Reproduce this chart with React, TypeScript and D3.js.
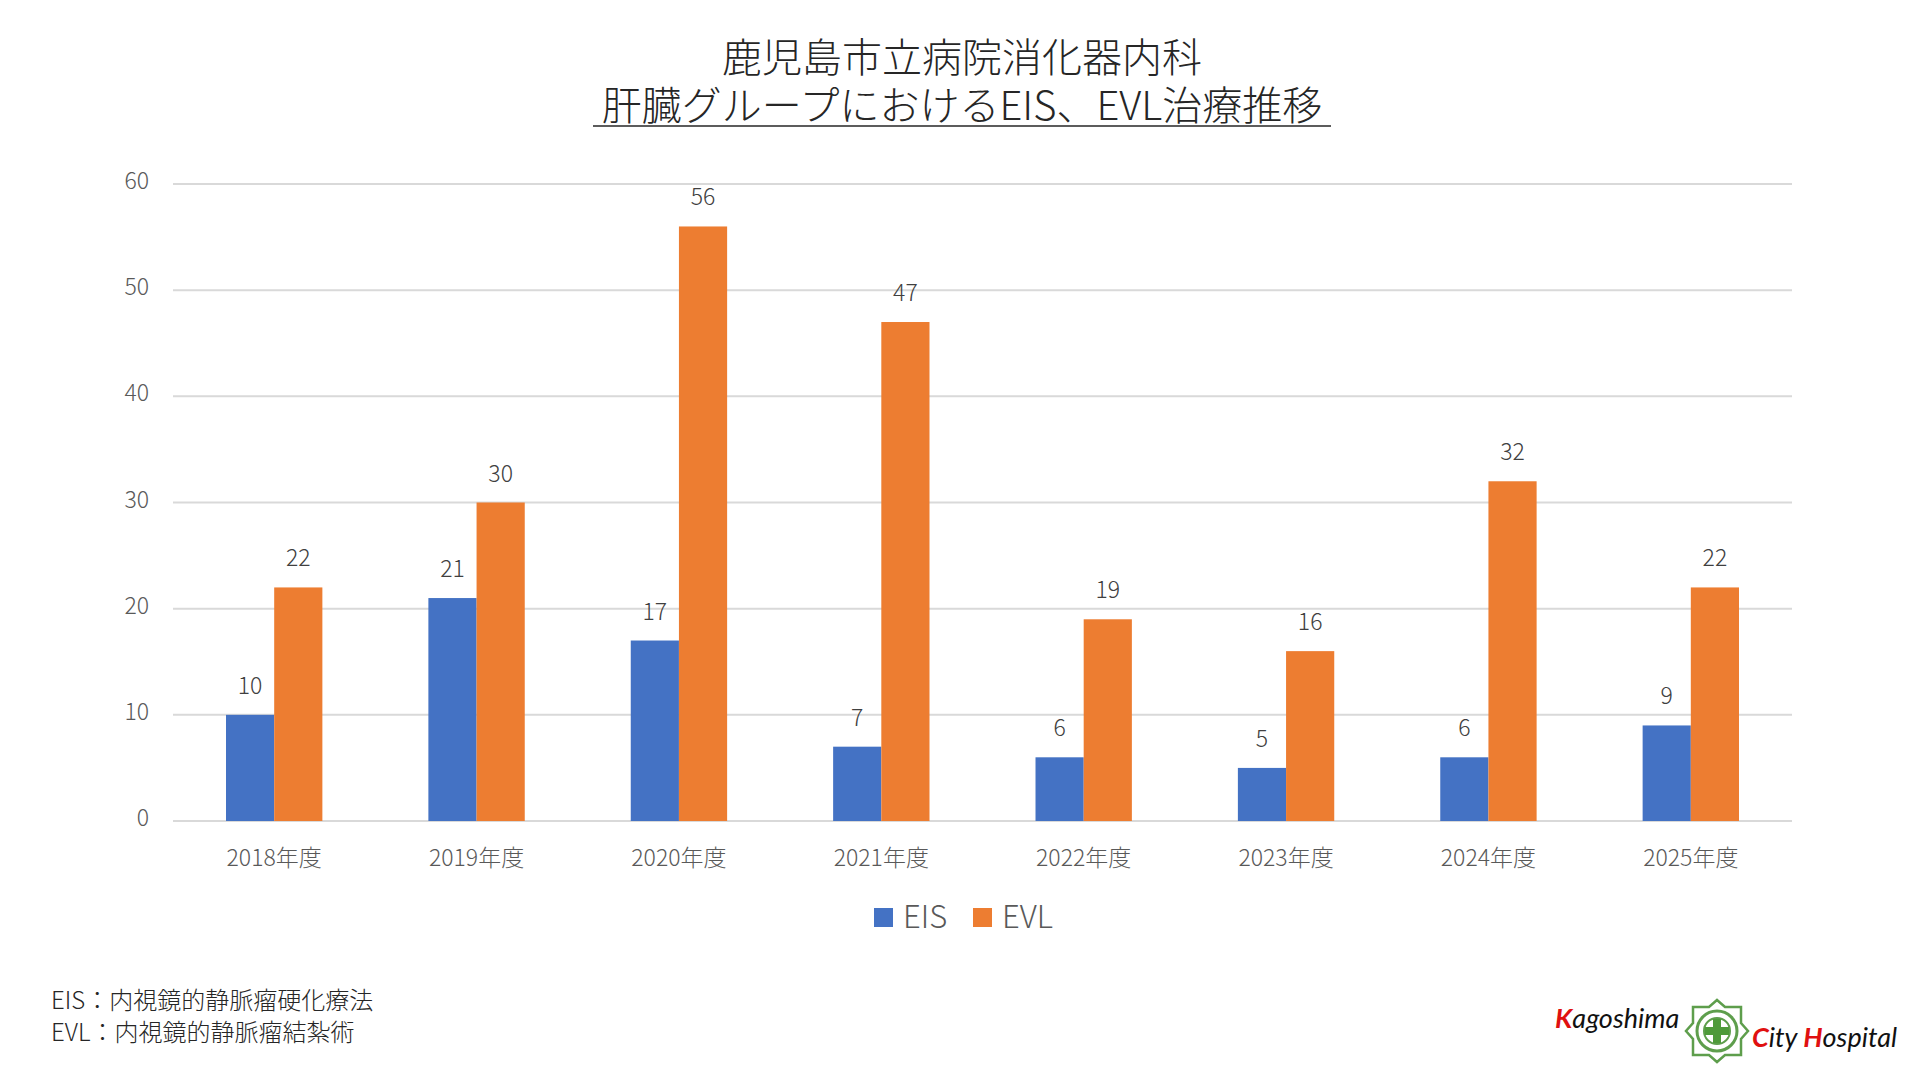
import React from "react";
import * as d3 from "d3";

const years = ["2018年度", "2019年度", "2020年度", "2021年度", "2022年度", "2023年度", "2024年度", "2025年度"];
const eisValues = [10, 21, 17, 7, 6, 5, 6, 9];
const evlValues = [22, 30, 56, 47, 19, 16, 32, 22];
const seriesNames = ["EIS", "EVL"];
const seriesColors = ["#4472C4", "#ED7D31"];
const yTicks = [0, 10, 20, 30, 40, 50, 60];
const titleLines = ["鹿児島市立病院消化器内科", "肝臓グループにおけるEIS、EVL治療推移"];
const notes = ["EIS：内視鏡的静脈瘤硬化療法", "EVL：内視鏡的静脈瘤結紮術"];

const W = 1920;
const H = 1080;
const FONT = "'Noto Sans CJK JP', 'Noto Sans', sans-serif";

export default function App() {
  const left = 173, right = 1792, top = 184, bottom = 821;

  const x0 = d3.scaleBand<string>().domain(years).range([left, right]).padding(0);
  const x1 = d3.scaleBand<string>().domain(seriesNames).range([0, x0.bandwidth()]).paddingInner(0).paddingOuter(1.1);
  const y = d3.scaleLinear().domain([0, 60]).range([bottom, top]);

  const series = [eisValues, evlValues];

  return (
    <svg width={W} height={H} style={{ position: "absolute", left: 0, top: 0, background: "#fff" }} fontFamily={FONT} fontWeight={300}>
      {/* title */}
      <text x={962} y={72} textAnchor="middle" fontSize={40} fill="#262626">{titleLines[0]}</text>
      <text x={962} y={120} textAnchor="middle" fontSize={40} fill="#262626">{titleLines[1]}</text>
      <line x1={593} x2={1331} y1={126} y2={126} stroke="#262626" strokeWidth={1.6} />

      {/* gridlines and y ticks */}
      {yTicks.map((t) => (
        <g key={t}>
          <line x1={left} x2={right} y1={y(t)} y2={y(t)} stroke="#D9D9D9" strokeWidth={2} />
          <text x={149} y={y(t) - 3} dy="0.35em" textAnchor="end" fontSize={23} fill="#595959">{t}</text>
        </g>
      ))}

      {/* bars */}
      {years.map((yr, i) => (
        <g key={yr} transform={`translate(${x0(yr)},0)`}>
          {series.map((vals, s) => {
            const bx = x1(seriesNames[s])!;
            const v = vals[i];
            return (
              <g key={s}>
                <rect x={bx} y={y(v)} width={x1.bandwidth()} height={y(0) - y(v)} fill={seriesColors[s]} />
                <text x={bx + x1.bandwidth() / 2} y={y(v) - 21} textAnchor="middle" fontSize={23} fill="#404040">{v}</text>
              </g>
            );
          })}
          <text x={x0.bandwidth() / 2} y={866} textAnchor="middle" fontSize={23} fill="#595959">{yr}</text>
        </g>
      ))}

      {/* legend */}
      <rect x={874} y={908} width={19} height={19} fill={seriesColors[0]} />
      <text x={903} y={928} fontSize={31} fill="#595959">{seriesNames[0]}</text>
      <rect x={973} y={908} width={19} height={19} fill={seriesColors[1]} />
      <text x={1002} y={928} fontSize={31} fill="#595959">{seriesNames[1]}</text>

      {/* footnotes */}
      {notes.map((n, i) => (
        <text key={i} x={51} y={1009 + i * 32} fontSize={24} fill="#262626">{n}</text>
      ))}

      {/* logo */}
      <g fontFamily="Lato, 'Open Sans', sans-serif" fontStyle="italic" fontSize={27} fontWeight={400}>
        <text x={1555} y={1028} fill="#111">
          <tspan fill="#E01010" fontWeight={700}>K</tspan>agoshima
        </text>
        <text x={1752} y={1047} fill="#111">
          <tspan fill="#E01010" fontWeight={700}>C</tspan>ity <tspan fill="#E01010" fontWeight={700}>H</tspan>ospital
        </text>
      </g>
      <g transform="translate(1717,1031)" fill="none" stroke="#5E9E4C">
        <path d="M0,-31 L8,-24 L24,-24 L24,-8 L31,0 L24,8 L24,24 L8,24 L0,31 L-8,24 L-24,24 L-24,8 L-31,0 L-24,-8 L-24,-24 L-8,-24 Z" strokeWidth={2.5} />
        <circle r={20} strokeWidth={3} />
        <circle r={13} strokeWidth={2} />
        <path d="M-4,-12 H4 V-4 H12 V4 H4 V12 H-4 V4 H-12 V-4 H-4 Z" fill="#4E9A3A" stroke="none" />
      </g>
    </svg>
  );
}
